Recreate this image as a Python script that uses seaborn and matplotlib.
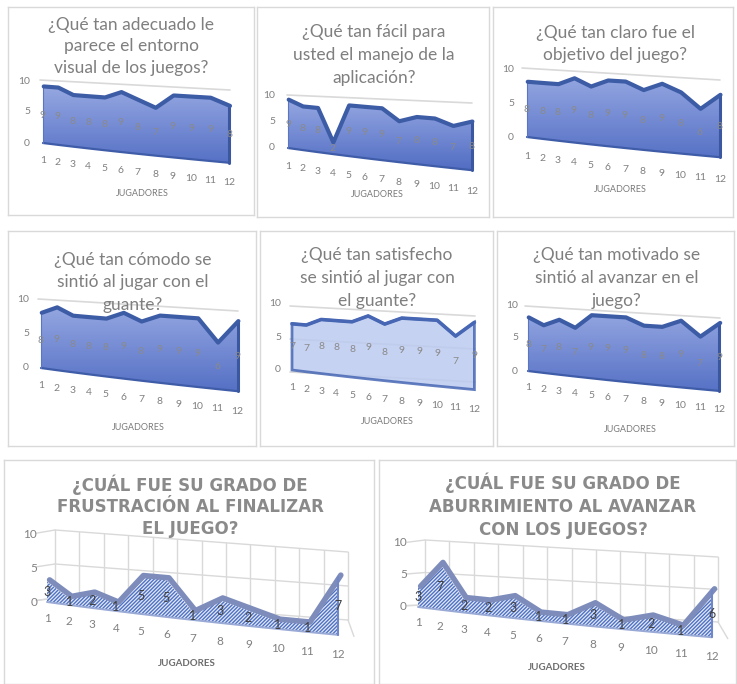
import numpy as np
import matplotlib
matplotlib.use("Agg")
import matplotlib.pyplot as plt
import matplotlib.transforms as mtransforms
from matplotlib.colors import LinearSegmentedColormap
from matplotlib.patches import Polygon
import seaborn as sns

# ---- survey answers per player (scale 0-10) ----
jugadores = np.arange(1, 13)
entorno_visual = [9, 9, 8, 8, 8, 9, 8, 7, 9, 9, 9, 8]
facilidad_manejo = [9, 8, 8, 2, 9, 9, 9, 7, 8, 8, 7, 8]
claridad_objetivo = [8, 8, 8, 9, 8, 9, 9, 8, 9, 8, 6, 8]
comodidad_guante = [8, 9, 8, 8, 8, 9, 8, 9, 9, 9, 6, 9]
satisfaccion_guante = [7, 7, 8, 8, 8, 9, 8, 9, 9, 9, 7, 9]
motivacion = [8, 7, 8, 7, 9, 9, 9, 8, 8, 9, 7, 9]
frustracion = [3, 1, 2, 1, 5, 5, 1, 3, 2, 1, 1, 7]
aburrimiento = [3, 7, 2, 2, 3, 1, 1, 3, 1, 2, 1, 6]

y_ticks = [0, 5, 10]
x_label = "JUGADORES"

titulos = [
    "¿Qué tan adecuado le\nparece el entorno\nvisual de los juegos?",
    "¿Qué tan fácil para\nusted el manejo de la\naplicación?",
    "¿Qué tan claro fue el\nobjetivo del juego?",
    "¿Qué tan cómodo se\nsintió al jugar con el\nguante?",
    "¿Qué tan satisfecho\nse sintió al jugar con\nel guante?",
    "¿Qué tan motivado se\nsintió al avanzar en el\njuego?",
    "¿CUÁL FUE SU GRADO DE\nFRUSTRACIÓN AL FINALIZAR\nEL JUEGO?",
    "¿CUÁL FUE SU GRADO DE\nABURRIMIENTO AL AVANZAR\nCON LOS JUEGOS?",
]

sns.set_theme(style="white")
plt.rcParams["font.family"] = ["Lato", "DejaVu Sans"]
plt.rcParams["hatch.linewidth"] = 1.0

W, H = 737, 684
fig = plt.figure(figsize=(W / 100, H / 100), dpi=100)
fig.patch.set_facecolor("white")


class Oblique(mtransforms.Transform):
    """Cheap 3-D look: categories recede along a slanted floor."""
    input_dims = output_dims = 2
    is_separable = False
    has_inverse = False

    def __init__(self, x0=1.0, sx=1.0, h=0.0, y0=0.0, sy=1.0, s=0.0, g=0.0):
        super().__init__()
        self.x0, self.sx, self.h = x0, sx, h
        self.y0, self.sy, self.s, self.g = y0, sy, s, g

    def transform_non_affine(self, values):
        v = np.asarray(values, dtype=float).reshape(-1, 2)
        k = v[:, 0] - 1.0
        x = self.x0 + self.sx * (k + self.h * k * k)
        y = self.y0 + self.sy * v[:, 1] * (1.0 + self.g * k) - self.s * k
        return np.column_stack([x, y])


def px(x, y):
    return x / W, 1 - y / H


face_cmap = LinearSegmentedColormap.from_list(
    "cara", ["#526ec3", "#768cd4", "#9aace3"])

paneles = [
    dict(box=(8, 7, 254, 215), origin=(43, 143), dx=14.4, dy=6.2, s=0.29,
         g=0.012, h=0.016, ytx=30, off=2.75, jug=(142, 193), tc=131,
         ty=(25, 21.5), back=(40, 80, 230, 90), style="solid"),
    dict(box=(257, 7, 489, 217), origin=(288, 148), dx=14.2, dy=5.3, s=0.38,
         g=0.012, h=0.016, ytx=275, off=3.5, jug=(377, 194), tc=374,
         ty=(32, 23), back=(287, 95, 472, 103), style="solid"),
    dict(box=(493, 7, 733, 217), origin=(527, 137), dx=14.9, dy=6.8, s=0.27,
         g=0.012, h=0.016, ytx=514, off=2.9, jug=(620, 189), tc=615,
         ty=(33, 22), back=(522, 68, 720, 80), style="solid"),
    dict(box=(8, 231, 256, 446), origin=(41, 368), dx=15.2, dy=6.8, s=0.31,
         g=0.012, h=0.016, ytx=29, off=2.6, jug=(138, 427), tc=133,
         ty=(260, 22.5), back=(38, 299, 238, 311), style="solid"),
    dict(box=(260, 231, 493, 446), origin=(292, 370), dx=14.1, dy=6.6, s=0.27,
         g=0.012, h=0.016, ytx=281, off=2.6, jug=(387, 422), tc=377,
         ty=(255, 23), back=(290, 306, 475, 316), style="light"),
    dict(box=(497, 231, 734, 446), origin=(528, 371), dx=14.8, dy=6.6, s=0.275,
         g=0.012, h=0.016, ytx=518, off=2.5, jug=(630, 429), tc=617,
         ty=(255, 23), back=(525, 306, 720, 318), style="solid"),
    dict(box=(4, 460, 374, 684), origin=(47, 602), dx=21.7, dy=6.8, s=0.44,
         g=0.02, h=0.02, ytx=37, off=2.4, jug=(187, 664), tc=190,
         ty=(485, 22), back=(55, 530, 348, 552, 598), style="hatch"),
    dict(box=(379, 460, 736, 684), origin=(418, 607), dx=21.9, dy=6.4, s=0.43,
         g=0.02, h=0.02, ytx=407, off=2.5, jug=(557, 668), tc=563,
         ty=(483, 23.5), back=(425, 540, 718, 557, 605), style="hatch"),
]

series = [entorno_visual, facilidad_manejo, claridad_objetivo, comodidad_guante,
          satisfaccion_guante, motivacion, frustracion, aburrimiento]

GRID = "#d9d9d9"
TXT = "#808080"

for valores, titulo, cfg in zip(series, titulos, paneles):
    x0, y0, x1, y1 = cfg["box"]
    ax = fig.add_axes([x0 / W, 1 - y1 / H, (x1 - x0) / W, (y1 - y0) / H])
    ox, oy = cfg["origin"]
    dx, dy = cfg["dx"], cfg["dy"]
    xlim = (1 - (ox - x0) / dx, 1 + (x1 - ox) / dx)
    ylim = (-(y1 - oy) / dy, (oy - y0) / dy)
    ax.set_xlim(*xlim)
    ax.set_ylim(*ylim)

    def X(p):
        return 1 + (p - ox) / dx

    def Y(p):
        return (oy - p) / dy

    hatch = cfg["style"] == "hatch"
    front = Oblique(s=cfg["s"], g=cfg["g"], h=cfg["h"])
    T = front + ax.transData

    # back wall placement
    b = cfg["back"]
    XL, XR = X(b[0]), X(b[2])
    YL10, YR10 = Y(b[1]), Y(b[3])
    YL0 = Y(b[4]) if len(b) > 4 else YL10 - 10.0
    sxb = (XR - XL) / 12.0
    sb = (YL10 - YR10) / 12.0
    syb = (YL10 - YL0) / 10.0
    back = Oblique(x0=XL + 0.5 * sxb, sx=sxb, y0=YL0 - 0.5 * sb, sy=syb, s=sb)
    Tb = back + ax.transData

    bordes = np.arange(0.5, 13.0, 1.0)
    if hatch:
        for yv in y_ticks:
            ax.plot([0.5, 12.5], [yv, yv], transform=Tb, color=GRID, lw=1, zorder=1)
            p_b = back.transform([[0.5, yv]])[0]
            p_f = front.transform([[0.5, yv]])[0]
            ax.plot([p_b[0], p_f[0]], [p_b[1], p_f[1]], color=GRID, lw=1, zorder=1)
        for bx in bordes:
            ax.plot([bx, bx], [0, 10], transform=Tb, color=GRID, lw=1, zorder=1)
            p_b = back.transform([[bx, 0]])[0]
            p_f = front.transform([[bx, 0]])[0]
            ax.plot([p_b[0], p_f[0]], [p_b[1], p_f[1]], color=GRID, lw=1, zorder=1)
    else:
        niveles = y_ticks if cfg["style"] == "light" else [10]
        for yv in niveles:
            ax.plot([0.5, 12.5], [yv, yv], transform=Tb, color=GRID, lw=1.2, zorder=1)

    xs = jugadores.astype(float)
    vs = np.asarray(valores, dtype=float)
    ceros = np.zeros_like(xs)
    verts = np.vstack([np.column_stack([xs, vs]),
                       np.column_stack([xs[::-1], ceros])])

    if hatch:
        cara = Polygon(verts, closed=True, transform=T, facecolor="#e4eaf8",
                       edgecolor="#4f72c4", hatch="/////////", lw=0, zorder=3)
        ax.add_patch(cara)
        T_top = front + mtransforms.Affine2D().translate(0.12, 0.25) + ax.transData
        sns.lineplot(x=xs, y=vs, ax=ax, color="#7d8cba", lw=4.0,
                     transform=T_top, zorder=4, legend=False)
        sns.lineplot(x=xs, y=ceros, ax=ax, color="#9aaad6", lw=1.4,
                     transform=T, zorder=4, legend=False)
        ax.plot([12, 12], [0, vs[-1]], transform=T, color="#6f86c8", lw=1.5, zorder=4)
    elif cfg["style"] == "light":
        cara = Polygon(verts, closed=True, transform=T, facecolor="#bccaef",
                       edgecolor="#4767b4", lw=2.0, alpha=0.85, zorder=3)
        ax.add_patch(cara)
        sns.lineplot(x=xs, y=vs, ax=ax, color="#4767b4", lw=2.6,
                     transform=T, zorder=4, legend=False)
    else:
        cara = Polygon(verts, closed=True, transform=T, facecolor="none",
                       edgecolor="none", zorder=2)
        ax.add_patch(cara)
        grad = np.linspace(0, 1, 256).reshape(-1, 1)
        im = ax.imshow(grad, extent=(xlim[0], xlim[1], -4.0, 10.0), origin="lower",
                       aspect="auto", cmap=face_cmap, zorder=2,
                       interpolation="bilinear")
        im.set_clip_path(cara)
        sns.lineplot(x=xs, y=ceros, ax=ax, color="#3f5ca8", lw=1.6,
                     transform=T, zorder=4, legend=False)
        ax.plot([12, 12], [0, vs[-1]], transform=T, color="#3a579f", lw=2.2, zorder=4)
        ax.plot([1, 1], [0, vs[0]], transform=T, color="#5b76c0", lw=0.8, zorder=4)
        T_top = front + mtransforms.Affine2D().translate(0.05, 0.12) + ax.transData
        sns.lineplot(x=xs, y=vs, ax=ax, color="#3d5ca6", lw=3.0,
                     transform=T_top, zorder=4, legend=False)

    # data labels centred in the area
    lab_color = "#404040" if hatch else "#8a8a8a"
    lab_size = 9 if hatch else 7.5
    for xv, vv in zip(xs, vs):
        ax.text(xv, vv / 2, f"{int(vv)}", transform=T, ha="center", va="center",
                color=lab_color, fontsize=lab_size, zorder=6)

    # category labels along the floor edge
    tick_size = 8.5 if hatch else 7.5
    for xv in xs:
        ax.text(xv, -cfg["off"], f"{int(xv)}", transform=T, ha="center",
                va="center", color=TXT, fontsize=tick_size, zorder=6)

    # value axis labels
    for yv in y_ticks:
        ax.text(X(cfg["ytx"]), yv, f"{yv}", ha="right", va="center",
                color=TXT, fontsize=tick_size, zorder=6)

    ax.set_xlim(*xlim)
    ax.set_ylim(*ylim)
    ax.set_xticks([])
    ax.set_yticks([])
    ax.set_xlabel("")
    ax.set_ylabel("")
    ax.set_facecolor("white")
    for sp in ax.spines.values():
        sp.set_color(GRID)
        sp.set_linewidth(1.0)

    jx, jy = cfg["jug"]
    fig.text(*px(jx, jy), x_label, ha="center", va="center",
             color="#7a7a7a" if not hatch else "#6e6e6e",
             fontsize=6.5 if not hatch else 7,
             fontweight="bold" if hatch else "normal",
             fontstretch="condensed")

    t0, step = cfg["ty"]
    for i, linea in enumerate(titulo.split("\n")):
        if hatch:
            fig.text(*px(cfg["tc"], t0 + i * step), linea, ha="center", va="center",
                     color="#8a8a8a", fontsize=12, fontweight="bold",
                     family=["DejaVu Sans"])
        else:
            fig.text(*px(cfg["tc"], t0 + i * step), linea, ha="center", va="center",
                     color="#7f7f7f", fontsize=12.5)

fig.savefig("out.png", dpi=100)
